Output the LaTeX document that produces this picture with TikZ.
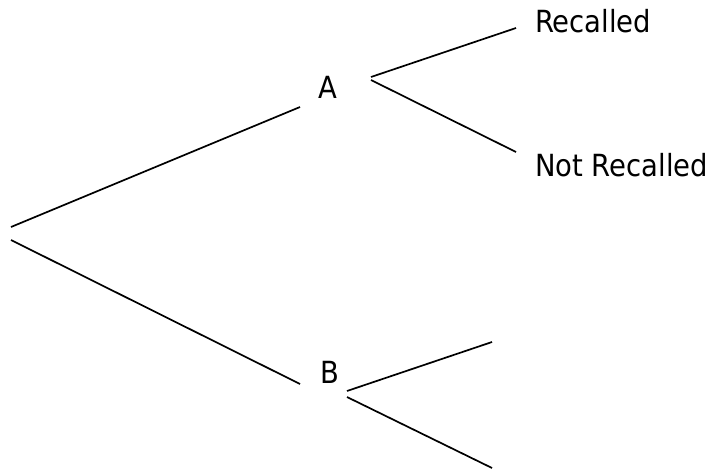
\documentclass[tikz,border=0pt]{standalone}
\usepackage{fontspec}
\setmainfont{DejaVu Sans Condensed}
\usepackage{tikz}
\usepackage{xcolor}

\tikzset{
	lbl/.style={anchor=base west, inner sep=0pt, font=\fontsize{30.5}{37}\selectfont},
	branch/.style={line width=1.7pt}
}

\begin{document}
\begin{tikzpicture}[x=1pt, y=-1pt]
				\useasboundingbox (0,0) rectangle (712,472);
				
				\node(A) at (318,98)[lbl]{A};
				\node(B) at (320,383)[lbl]{B};
				\node(R) at (535,32)[lbl]{Recalled};
				\node(N) at (535,176)[lbl]{Not Recalled};
				
				\coordinate(root1) at (11,227);
				\coordinate(root2) at (11,240);
				\coordinate(Ain) at (300,107);
				\coordinate(Bin) at (300,384);
				\coordinate(Aout1) at (371,77);
				\coordinate(Aout2) at (371,80);
				\coordinate(Rin) at (516,28);
				\coordinate(Nin) at (516,152);
				\coordinate(Bout1) at (347,391);
				\coordinate(Bout2) at (347,397);
				\coordinate(Bleaf1) at (492,342);
				\coordinate(Bleaf2) at (492,468);
				
				\draw[branch] (root1) to (Ain);
				\draw[branch] (root2) to (Bin);
				\draw[branch] (Aout1) to (Rin);
				\draw[branch] (Aout2) to (Nin);
				\draw[branch] (Bout1) to (Bleaf1);
				\draw[branch] (Bout2) to (Bleaf2);
			\end{tikzpicture}
\end{document}
